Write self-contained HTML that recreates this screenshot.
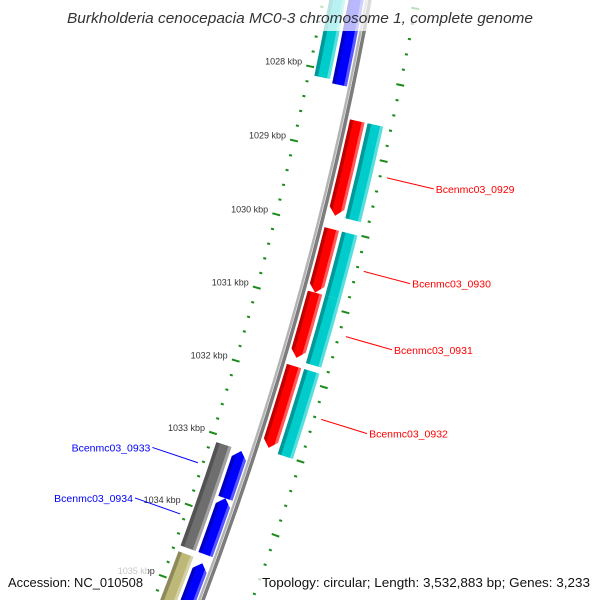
<!DOCTYPE html>
<html><head><meta charset="utf-8"><style>
html,body{margin:0;padding:0;background:#fff;width:600px;height:600px;overflow:hidden;}
svg{display:block;font-family:"Liberation Sans",sans-serif;overflow:hidden;}
</style></head><body>
<svg id="map" width="600" height="600" viewBox="0 0 600 600">
<defs id="defs"></defs>
<g id="ticks"></g>
<g id="backbone"></g>
<g id="features"></g>
<g id="labels"></g>
<g id="legend">
  <rect x="60" y="0" width="480" height="31" fill="#fff" fill-opacity="0.72"/>
  <text x="300" y="23" text-anchor="middle" font-size="15" font-style="italic" fill="#333" textLength="466" lengthAdjust="spacingAndGlyphs">Burkholderia cenocepacia MC0-3 chromosome 1, complete genome</text>
  <rect x="0" y="567" width="148" height="33" fill="#fff" fill-opacity="0.72"/>
  <text x="8" y="587" font-size="13" fill="#111" textLength="135" lengthAdjust="spacingAndGlyphs">Accession: NC_010508</text>
  <rect x="256" y="567" width="344" height="33" fill="#fff" fill-opacity="0.72"/>
  <text x="590" y="587" font-size="13" fill="#111" text-anchor="end" textLength="328" lengthAdjust="spacingAndGlyphs">Topology: circular; Length: 3,532,883 bp; Genes: 3,233</text>
</g>
</svg>
<script>
// ---- data ----
const featStart = [1026800, 1026800, 1028570, 1028570, 1030008, 1030008, 1030860, 1030860, 1031850, 1031850, 1033100, 1033110, 1033760, 1034620, 1034660];
const featEnd   = [1028110, 1028160, 1029830, 1029830, 1030860, 1030860, 1031740, 1031770, 1032960, 1033000, 1034540, 1033760, 1034540, 1036000, 1036000];
const featRing  = ['rev-cat','rev-cds','fwd-cds','fwd-cat','fwd-cds','fwd-cat','fwd-cds','fwd-cat','fwd-cds','fwd-cat','rev-cat','rev-cds','rev-cds','rev-cat','rev-cds'];
const featColor = ['#00cccc','#0000ff','#ff0000','#00cccc','#ff0000','#00cccc','#ff0000','#00cccc','#ff0000','#00cccc','#6e6e6e','#0000ff','#0000ff','#bdb878','#0000ff'];
const geneNames  = ['Bcenmc03_0929','Bcenmc03_0930','Bcenmc03_0931','Bcenmc03_0932','Bcenmc03_0933','Bcenmc03_0934'];
const geneStart  = [1028570, 1030008, 1030860, 1031850, 1033110, 1033760];
const geneEnd    = [1029830, 1030860, 1031740, 1032960, 1033760, 1034540];
const geneStrand = [1, 1, 1, 1, -1, -1];
const tickStart = 1025000, tickEnd = 1036400, minorStep = 200, majorStep = 1000;

// ---- geometry ----
const CX = -3017, CY = -619, RB = 3442;
const REF_BP = 1029000, REF_DEG = 12.92, DEG_PER_BP = 0.00128;
const rings = {'fwd-cat':[3465,3481],'fwd-cds':[3447,3462],'rev-cds':[3422,3437],'rev-cat':[3403,3419]};
const NS = 'http://www.w3.org/2000/svg';
function ang(bp){ return (REF_DEG + (bp - REF_BP) * DEG_PER_BP) * Math.PI / 180; }
function P(r, bp){ const a = ang(bp); return [CX + r*Math.cos(a), CY + r*Math.sin(a)]; }
function f(p){ return p[0].toFixed(2)+' '+p[1].toFixed(2); }
function mk(tag, attrs, parent){ const e=document.createElementNS(NS,tag); for(const k in attrs) e.setAttribute(k, attrs[k]); parent.appendChild(e); return e; }
function shade(hex, k){ let n=parseInt(hex.slice(1),16); let c=[(n>>16)&255,(n>>8)&255,n&255];
  c=c.map(v=> k<0 ? Math.round(v*(1+k)) : Math.round(v+(255-v)*k)); return 'rgb('+c.join(',')+')'; }

// ---- ticks ----
const tg = document.getElementById('ticks');
for (let bp = tickStart; bp <= tickEnd; bp += minorStep) {
  const major = bp % majorStep === 0;
  const len = major ? 4 : 1.5;
  [3397, 3489].forEach(function(r){
    const a=P(r-len,bp), b=P(r+len,bp);
    const t = mk('line',{x1:a[0],y1:a[1],x2:b[0],y2:b[1],stroke:'#1a8a1a','stroke-width':2},tg);
    
    
  });
  if (major) {
    const p = P(3397, bp);
    const lb = mk('text',{x:p[0]-8,y:p[1]-2,'text-anchor':'end','font-size':9,fill:'#333'},tg);
    lb.textContent = (bp/1000)+' kbp';
    
    
  }
}

// ---- backbone ----
const bg = document.getElementById('backbone');
[[3439.5,'#b4b4b4',2.5],[3443,'#7c7c7c',3.5]].forEach(function(s){
  const a=P(s[0],tickStart), b=P(s[0],tickEnd);
  const bl = mk('path',{d:'M '+f(a)+' A '+s[0]+' '+s[0]+' 0 0 1 '+f(b),fill:'none',stroke:s[1],'stroke-width':s[2]},bg);
  
  
});

// ---- features ----
const fg = document.getElementById('features');
const defs = document.getElementById('defs');
function featPath(r0, r1, s, e, ring){
  const arrow = ring.indexOf('cds') >= 0;
  const rm = (r0+r1)/2, h = 100;
  if (!arrow) return 'M '+f(P(r0,s))+' A '+r0+' '+r0+' 0 0 1 '+f(P(r0,e))+' L '+f(P(r1,e))+' A '+r1+' '+r1+' 0 0 0 '+f(P(r1,s))+' Z';
  if (ring.indexOf('fwd') === 0)
    return 'M '+f(P(r0,s))+' A '+r0+' '+r0+' 0 0 1 '+f(P(r0,e-h))+' L '+f(P(rm,e))+' L '+f(P(r1,e-h))+' A '+r1+' '+r1+' 0 0 0 '+f(P(r1,s))+' Z';
  return 'M '+f(P(rm,s))+' L '+f(P(r0,s+h))+' A '+r0+' '+r0+' 0 0 1 '+f(P(r0,e))+' L '+f(P(r1,e))+' A '+r1+' '+r1+' 0 0 0 '+f(P(r1,s+h))+' Z';
}
for (let i = 0; i < featStart.length; i++) {
  const rr = rings[featRing[i]], r0 = rr[0], r1 = rr[1], w = r1 - r0;
  const d = featPath(r0, r1, featStart[i], featEnd[i], featRing[i]);
  const cp = mk('clipPath',{id:'clip'+i},defs);
  mk('path',{d:d},cp);
  const g = mk('g',{'clip-path':'url(#clip'+i+')'},fg);
  
  
  const bands = [[r0-2, r0+w*0.25, shade(featColor[i],-0.25)],[r0+w*0.25, r1-w*0.18, featColor[i]],[r1-w*0.18, r1+2, shade(featColor[i],0.35)]];
  bands.forEach(function(b){
    const rm=(b[0]+b[1])/2, s=featStart[i]-300, e=featEnd[i]+300;
    const a=P(rm,s), c=P(rm,e);
    mk('path',{d:'M '+f(a)+' A '+rm+' '+rm+' 0 0 1 '+f(c),fill:'none',stroke:b[2],'stroke-width':(b[1]-b[0])+0.5},g);
  });
}

// ---- gene labels ----
const lg = document.getElementById('labels');
for (let i = 0; i < geneNames.length; i++) {
  const mid = (geneStart[i] + geneEnd[i]) / 2;
  const fwd = geneStrand[i] > 0;
  const col = fwd ? '#ff0000' : '#0000ff';
  const a = P(fwd ? 3496 : 3392, mid), b = P(fwd ? 3544 : 3344, mid);
  const ln = mk('line',{x1:a[0],y1:a[1],x2:b[0],y2:b[1],stroke:col,'stroke-width':1},lg);
  
  
  const t = mk('text',{x: fwd ? b[0]+2 : b[0]-2, y: b[1]+4,'text-anchor': fwd ? 'start':'end','font-size':10.5,fill:col},lg);
  t.textContent = geneNames[i];
  
  
}
</script>
</body></html>
